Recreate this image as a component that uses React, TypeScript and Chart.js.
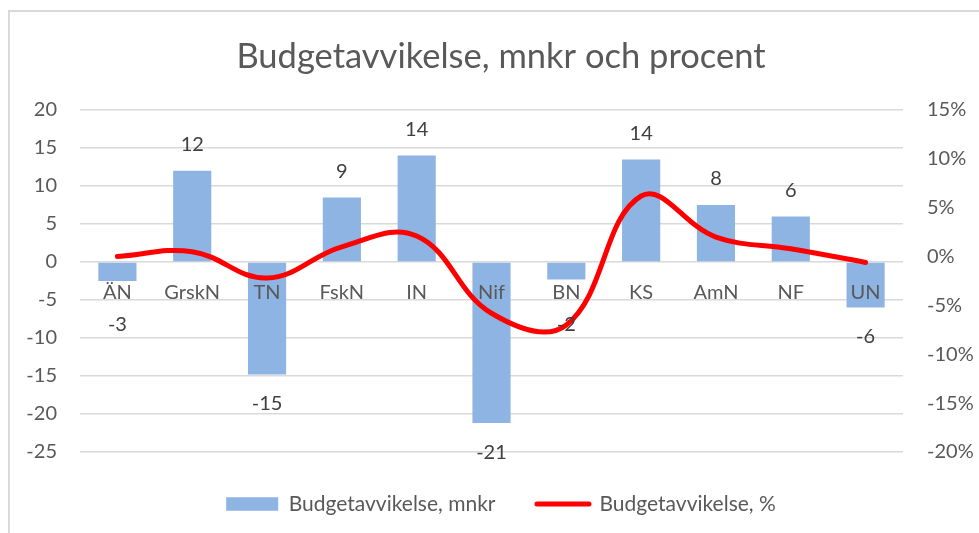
import React, { useEffect, useRef } from 'react';
import { Chart, registerables } from 'chart.js';

Chart.register(...registerables);

const categories = ['ÄN', 'GrskN', 'TN', 'FskN', 'IN', 'Nif', 'BN', 'KS', 'AmN', 'NF', 'UN'];
const deviationMnkr = [-2.5, 12, -14.8, 8.5, 14, -21.2, -2.3, 13.5, 7.5, 6, -6];
const deviationPct = [0, 0.5, -2.2, 1.0, 2.1, -5.8, -7.0, 6.2, 2.0, 0.8, -0.6];
const mnkrAxisRange = [-25, 20];
const pctAxisRange = [-20, 15];
const tickStep = 5;
const seriesNames = ['Budgetavvikelse, mnkr', 'Budgetavvikelse, %'];
const titleText = 'Budgetavvikelse, mnkr och procent';

const FONT = 'Lato';
const AXIS_COLOR = '#595959';
const LABEL_COLOR = '#404040';
const BAR_COLOR = '#8DB4E2';
const LINE_COLOR = '#FF0000';

const formatLabel = (v: number) => String(Math.sign(v) * Math.round(Math.abs(v)));

const barValueLabels = {
  id: 'barValueLabels',
  afterDatasetsDraw(chart: any) {
    const meta = chart.getDatasetMeta(0);
    const zero = chart.scales.y.getPixelForValue(0);
    const ctx = chart.ctx;
    ctx.save();
    ctx.font = `20px ${FONT}`;
    ctx.fillStyle = LABEL_COLOR;
    ctx.textAlign = 'center';
    ctx.textBaseline = 'middle';
    meta.data.forEach((el: any, i: number) => {
      const v = deviationMnkr[i];
      const y = v >= 0 ? el.y - 26 : Math.max(el.y + 29, zero + 63);
      ctx.fillText(formatLabel(v), el.x, y);
    });
    ctx.restore();
  },
};

export default function App() {
  const ref = useRef<HTMLCanvasElement | null>(null);

  useEffect(() => {
    if (!ref.current) return;
    const tickFont = { family: FONT, size: 20 };
    const chart = new Chart(ref.current, {
      type: 'bar',
      data: {
        labels: categories,
        datasets: [
          {
            type: 'bar',
            label: seriesNames[0],
            data: deviationMnkr,
            backgroundColor: BAR_COLOR,
            borderWidth: 0,
            yAxisID: 'y',
            barPercentage: 0.51,
            categoryPercentage: 1,
            order: 1,
          } as any,
          {
            type: 'line',
            label: seriesNames[1],
            data: deviationPct,
            borderColor: LINE_COLOR,
            backgroundColor: LINE_COLOR,
            borderWidth: 5,
            borderCapStyle: 'round',
            borderJoinStyle: 'round',
            pointRadius: 0,
            tension: 0.4,
            yAxisID: 'y1',
            order: 0,
          } as any,
        ],
      },
      options: {
        animation: false,
        responsive: false,
        layout: { padding: { left: 0, right: 0, top: 0, bottom: 8.5 } },
        plugins: {
          tooltip: { enabled: false },
          title: {
            display: true,
            text: titleText,
            color: AXIS_COLOR,
            font: { family: FONT, size: 34.5, weight: 'normal' },
            padding: { top: 24.3, bottom: 32.3 },
          },
          legend: {
            position: 'bottom',
            labels: {
              usePointStyle: true,
              pointStyleWidth: 52,
              boxHeight: 13.4,
              padding: 41.5,
              color: AXIS_COLOR,
              font: { family: FONT, size: 21 },
              generateLabels: (c: any) =>
                c.data.datasets.map((ds: any, i: number) => ({
                  text: ds.label,
                  datasetIndex: i,
                  fillStyle: ds.backgroundColor,
                  strokeStyle: i === 0 ? ds.backgroundColor : ds.borderColor,
                  lineWidth: i === 0 ? 0 : 5,
                  pointStyle: i === 0 ? 'rect' : 'line',
                  lineCap: 'round',
                  hidden: false,
                  fontColor: AXIS_COLOR,
                })),
            },
          },
        },
        scales: {
          x: {
            position: { y: 0 } as any,
            offset: true,
            grid: { display: false, drawTicks: false },
            border: { display: false },
            ticks: { z: 1, padding: 19, maxRotation: 0, autoSkip: false, color: AXIS_COLOR, font: tickFont },
          },
          y: {
            position: 'left',
            min: mnkrAxisRange[0],
            max: mnkrAxisRange[1],
            ticks: { stepSize: tickStep, padding: 23, color: AXIS_COLOR, font: tickFont },
            grid: { color: '#d9d9d9', lineWidth: 1.5, drawTicks: false },
            border: { display: false },
            afterFit: (s: any) => { s.width = 70; },
          },
          y1: {
            position: 'right',
            min: pctAxisRange[0],
            max: pctAxisRange[1],
            ticks: { stepSize: tickStep, padding: 24, color: AXIS_COLOR, font: tickFont, callback: (v: any) => `${v}%` },
            grid: { display: false, drawTicks: false },
            border: { display: false },
            afterFit: (s: any) => { s.width = 89; },
          },
        },
      } as any,
      plugins: [barValueLabels],
    });
    return () => chart.destroy();
  }, []);

  return (
    <div
      style={{
        position: 'fixed',
        left: 8,
        top: 10,
        width: 971,
        height: 523,
        boxSizing: 'border-box',
        borderTop: '2px solid #d9d9d9',
        borderLeft: '2px solid #d9d9d9',
        overflow: 'hidden',
        background: '#fff',
      }}
    >
      <canvas ref={ref} width={982} height={521} style={{ display: 'block' }} />
    </div>
  );
}
